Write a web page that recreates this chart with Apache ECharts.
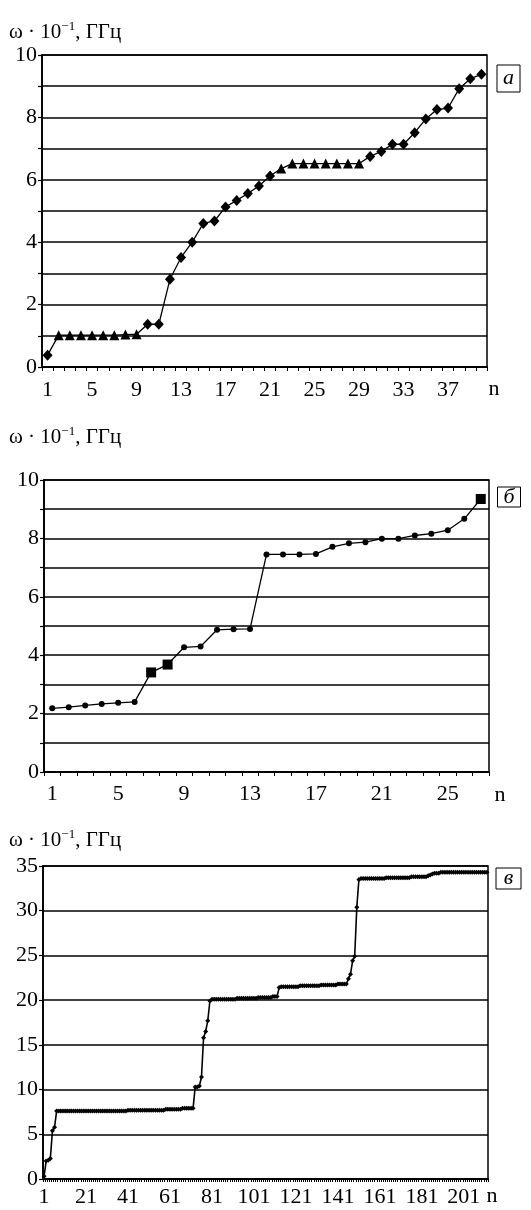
<!DOCTYPE html>
<html>
<head>
<meta charset="utf-8">
<script src="https://cdn.jsdelivr.net/npm/echarts@6/dist/echarts.min.js"></script>
<style>html,body{margin:0;padding:0;background:#fff}#c{width:531px;height:1210px}</style>
</head>
<body>
<div id="c"></div>
<script>
// ---- Panel а ----
const valuesA = [0.38, 1.02, 1.02, 1.02, 1.02, 1.02, 1.02, 1.04, 1.05, 1.37,
  1.37, 2.81, 3.51, 4.0, 4.6, 4.68, 5.13, 5.34, 5.56, 5.8,
  6.12, 6.36, 6.52, 6.52, 6.52, 6.52, 6.52, 6.52, 6.52, 6.75,
  6.91, 7.14, 7.14, 7.51, 7.95, 8.25, 8.3, 8.92, 9.24, 9.38];
const triangleNA = [2, 3, 4, 5, 6, 7, 8, 9, 22, 23, 24, 25, 26, 27, 28, 29];

// ---- Panel б ----
const valuesB = [2.18, 2.22, 2.28, 2.33, 2.37, 2.4, 3.41, 3.68, 4.27, 4.3,
  4.87, 4.89, 4.9, 7.45, 7.45, 7.45, 7.47, 7.71, 7.83, 7.87,
  7.99, 7.99, 8.1, 8.16, 8.28, 8.67, 9.35];
const squareNB = [7, 8, 27];

// ---- Panel в ----
const valuesC = [
  0.3, 2.0, 2.1, 2.3, 5.4, 5.8, 7.6,
  7.6, 7.6, 7.6, 7.6, 7.6, 7.6, 7.6, 7.6, 7.6, 7.6,
  7.6, 7.6, 7.6, 7.6, 7.6, 7.6, 7.6, 7.6, 7.6, 7.6,
  7.6, 7.6, 7.6, 7.6, 7.6, 7.6, 7.6, 7.6, 7.6, 7.6,
  7.6, 7.6, 7.6,
  7.7, 7.7, 7.7, 7.7, 7.7, 7.7, 7.7, 7.7, 7.7, 7.7,
  7.7, 7.7, 7.7, 7.7, 7.7, 7.7, 7.7, 7.7,
  7.8, 7.8, 7.8, 7.8, 7.8, 7.8, 7.8, 7.8,
  7.9, 7.9, 7.9, 7.9, 7.9, 7.9,
  10.3, 10.3, 10.4, 11.4, 15.8, 16.5, 17.7, 19.9,
  20.1, 20.1, 20.1, 20.1, 20.1, 20.1, 20.1, 20.1, 20.1, 20.1, 20.1, 20.1,
  20.2, 20.2, 20.2, 20.2, 20.2, 20.2, 20.2, 20.2, 20.2, 20.2,
  20.3, 20.3, 20.3, 20.3, 20.3, 20.3, 20.3,
  20.4, 20.4, 20.4,
  21.4,
  21.5, 21.5, 21.5, 21.5, 21.5, 21.5, 21.5, 21.5, 21.5,
  21.6, 21.6, 21.6, 21.6, 21.6, 21.6, 21.6, 21.6, 21.6, 21.6,
  21.7, 21.7, 21.7, 21.7, 21.7, 21.7, 21.7, 21.7,
  21.8, 21.8, 21.8, 21.8, 21.8,
  22.4, 22.9, 24.4, 24.9, 30.4, 33.5,
  33.6, 33.6, 33.6, 33.6, 33.6, 33.6, 33.6, 33.6, 33.6, 33.6, 33.6, 33.6,
  33.7, 33.7, 33.7, 33.7, 33.7, 33.7, 33.7, 33.7, 33.7, 33.7, 33.7, 33.7,
  33.8, 33.8, 33.8, 33.8, 33.8, 33.8, 33.8, 33.8, 33.9,
  34.0, 34.1, 34.2,
  34.2, 34.2, 34.3, 34.3, 34.3, 34.3, 34.3, 34.3, 34.3, 34.3,
  34.3, 34.3, 34.3, 34.3, 34.3, 34.3, 34.3, 34.3, 34.3, 34.3,
  34.3, 34.3, 34.3, 34.3, 34.3
];

const categoriesA = valuesA.map((v, i) => String(i + 1));
const categoriesB = valuesB.map((v, i) => String(i + 1));
const categoriesC = valuesC.map((v, i) => String(i + 1));

const FONT = 'Liberation Serif';
const BLACK = '#000';

function xAxisOf(grid, data, interval, labelSize, margin, tickLen) {
  return {
    gridIndex: grid, type: 'category', data: data, boundaryGap: true,
    axisLine: { show: true, lineStyle: { color: BLACK, width: 1.8 } },
    axisTick: { show: true, interval: 0, length: tickLen, lineStyle: { color: BLACK, width: 1 } },
    axisLabel: { interval: interval, color: BLACK, fontFamily: FONT, fontSize: labelSize, margin: margin },
    splitLine: { show: false }
  };
}
function yAxisOf(grid, max, interval, evenOnly, labelSize) {
  return {
    gridIndex: grid, type: 'value', min: 0, max: max, interval: interval,
    axisLine: { show: true, lineStyle: { color: BLACK, width: 1.8 } },
    axisTick: { show: true, length: 4, lineStyle: { color: BLACK, width: 1.2 } },
    axisLabel: {
      color: BLACK, fontFamily: FONT, fontSize: labelSize, margin: 5,
      formatter: v => (evenOnly && v % 2 !== 0) ? '' : String(v)
    },
    splitLine: { show: true, lineStyle: { color: BLACK, width: 1.5 } }
  };
}

const richName = {
  m: { fontFamily: FONT, fontSize: 21, fill: BLACK, lineHeight: 24 },
  s: { fontFamily: FONT, fontSize: 13, fill: BLACK, verticalAlign: 'top', lineHeight: 24 }
};
function yName(x, y) {
  return { type: 'text', x: x, y: y, style: { text: '{m|ω · 10}{s|−1}{m|, ГГц}', rich: richName, fill: BLACK } };
}
function nLabel(x, y) {
  return { type: 'text', x: x, y: y, style: { text: 'n', fontFamily: FONT, fontSize: 22, fill: BLACK, align: 'center', verticalAlign: 'middle' } };
}
function panelBox(x, y, w, h, letter) {
  return { type: 'group', children: [
    { type: 'rect', shape: { x: x, y: y, width: w, height: h }, style: { fill: '#fff', stroke: BLACK, lineWidth: 1 } },
    { type: 'text', x: x + w / 2, y: y + h / 2, style: { text: letter, fontFamily: FONT, fontStyle: 'italic', fontSize: 22, fill: BLACK, align: 'center', verticalAlign: 'middle' } }
  ]};
}

const dataA = valuesA.map((v, i) => ({ value: v, symbol: triangleNA.includes(i + 1) ? 'triangle' : 'diamond', symbolSize: triangleNA.includes(i + 1) ? 10 : [10, 11] }));
const dataB = valuesB.map((v, i) => ({ value: v, symbol: squareNB.includes(i + 1) ? 'rect' : 'circle', symbolSize: squareNB.includes(i + 1) ? 10 : 6 }));

const option = {
  animation: false,
  backgroundColor: '#fff',
  textStyle: { fontFamily: FONT },
  grid: [
    { left: 42, top: 55, width: 445, height: 312, show: true, borderColor: BLACK, borderWidth: 1.5, backgroundColor: 'transparent' },
    { left: 44, top: 480, width: 445, height: 292, show: true, borderColor: BLACK, borderWidth: 1.5, backgroundColor: 'transparent' },
    { left: 43, top: 866, width: 445, height: 313, show: true, borderColor: BLACK, borderWidth: 1.5, backgroundColor: 'transparent' }
  ],
  xAxis: [
    xAxisOf(0, categoriesA, 3, 22, 12, 4),
    xAxisOf(1, categoriesB, 3, 22, 11, 4),
    xAxisOf(2, categoriesC, 19, 22, 7, 3)
  ],
  yAxis: [
    yAxisOf(0, 10, 1, true, 22),
    yAxisOf(1, 10, 1, true, 22),
    yAxisOf(2, 35, 5, false, 22)
  ],
  series: [
    { type: 'line', xAxisIndex: 0, yAxisIndex: 0, data: dataA, lineStyle: { color: BLACK, width: 1.3 }, itemStyle: { color: BLACK }, showAllSymbol: true },
    { type: 'line', xAxisIndex: 1, yAxisIndex: 1, data: dataB, lineStyle: { color: BLACK, width: 1.3 }, itemStyle: { color: BLACK }, showAllSymbol: true },
    { type: 'line', xAxisIndex: 2, yAxisIndex: 2, data: valuesC, symbol: 'diamond', symbolSize: 5, showAllSymbol: true, lineStyle: { color: BLACK, width: 1.6 }, itemStyle: { color: BLACK } }
  ],
  graphic: [
    yName(9, 20), yName(9, 425), yName(9, 828),
    nLabel(494, 389), nLabel(500, 795), nLabel(492, 1196),
    panelBox(497, 65, 23, 27, 'а'),
    panelBox(497.5, 487, 23, 20, 'б'),
    panelBox(496, 868, 25, 21, 'в')
  ]
};

const chart = echarts.init(document.getElementById('c'), null, { renderer: 'canvas' });
chart.setOption(option);
</script>
</body>
</html>
